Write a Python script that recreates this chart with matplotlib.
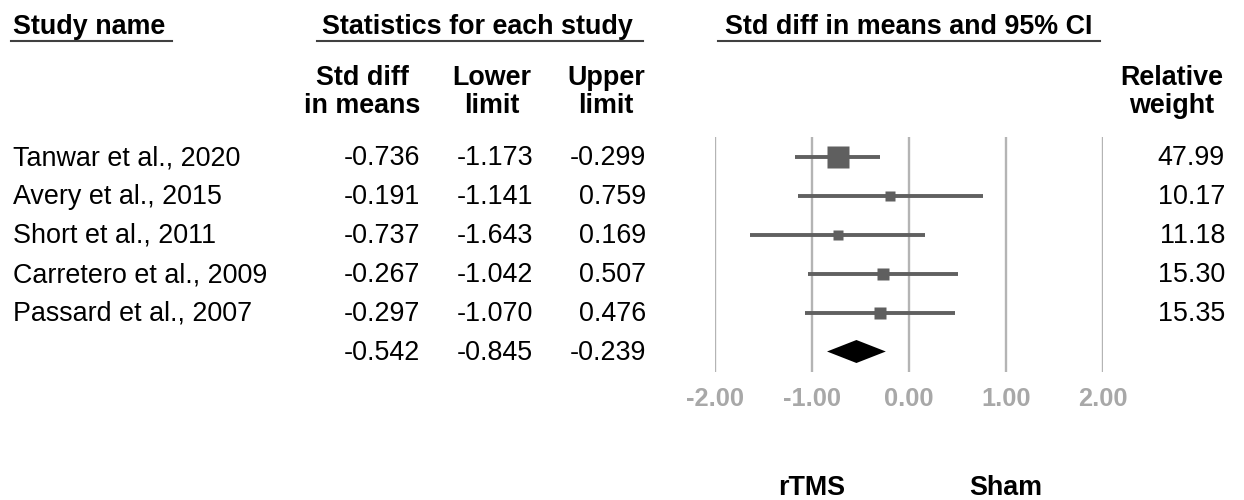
import matplotlib
matplotlib.use("Agg")
import matplotlib.pyplot as plt
from matplotlib.lines import Line2D
import numpy as np

plt.rcParams['font.family'] = ['Liberation Sans', 'DejaVu Sans']
plt.rcParams['axes.unicode_minus'] = False

# ---- data ----
studies = ["Tanwar et al., 2020", "Avery et al., 2015", "Short et al., 2011",
           "Carretero et al., 2009", "Passard et al., 2007"]
smd = [-0.736, -0.191, -0.737, -0.267, -0.297]
lower = [-1.173, -1.141, -1.643, -1.042, -1.070]
upper = [-0.299, 0.759, 0.169, 0.507, 0.476]
weights = [47.99, 10.17, 11.18, 15.30, 15.35]
summary = [-0.542, -0.845, -0.239]   # estimate, lower, upper
xticks = [-2.0, -1.0, 0.0, 1.0, 2.0]
left_label = "rTMS"
right_label = "Sham"

W, H = 1244, 500
fig = plt.figure(figsize=(W / 100, H / 100), dpi=100)

FS = 19.4      # ~27 px
TICK_FS = 18.3

def P(x, y):
    return (x / W, 1 - y / H)

def txt(x, y, s, ha='left', weight='normal', color='black', size=FS):
    fig.text(*P(x, y), s, ha=ha, va='baseline', fontsize=size,
             fontweight=weight, color=color)

def uline(x0, x1, y):
    fig.add_artist(Line2D([x0 / W, x1 / W], [1 - y / H, 1 - y / H],
                          transform=fig.transFigure, color='#404040', lw=1.5))

# ---- headers ----
txt(13, 34, "Study name", weight='bold')
uline(11, 172, 41)
txt(633, 34, "Statistics for each study", ha='right', weight='bold')
uline(317, 643, 41)
txt(909, 34, "Std diff in means and 95% CI", ha='center', weight='bold')
uline(718, 1100, 41)

txt(362, 85, "Std diff", ha='center', weight='bold')
txt(362, 113, "in means", ha='center', weight='bold')
txt(492, 85, "Lower", ha='center', weight='bold')
txt(492, 113, "limit", ha='center', weight='bold')
txt(606, 85, "Upper", ha='center', weight='bold')
txt(606, 113, "limit", ha='center', weight='bold')
txt(1172, 85, "Relative", ha='center', weight='bold')
txt(1172, 113, "weight", ha='center', weight='bold')

# ---- table rows ----
row0, dy = 165, 39
for i, name in enumerate(studies):
    yb = row0 + dy * i
    txt(13, yb, name)
    txt(420, yb, f"{smd[i]:.3f}", ha='right')
    txt(533, yb, f"{lower[i]:.3f}", ha='right')
    txt(646, yb, f"{upper[i]:.3f}", ha='right')
    txt(1225, yb, f"{weights[i]:.2f}", ha='right')
yb = row0 + dy * len(studies)
txt(420, yb, f"{summary[0]:.3f}", ha='right')
txt(533, yb, f"{summary[1]:.3f}", ha='right')
txt(646, yb, f"{summary[2]:.3f}", ha='right')

# ---- forest axes ----
ax_top, ax_bot = 137, 372
ax = fig.add_axes([715 / W, 1 - ax_bot / H, 388 / W, (ax_bot - ax_top) / H])
row_px0 = 156.5
ax.set_xlim(xticks[0], xticks[-1])
ax.set_ylim((ax_bot - row_px0) / dy, (ax_top - row_px0) / dy)
for s in ax.spines.values():
    s.set_visible(False)
ax.set_yticks([])
ax.set_xticks(xticks)
ax.set_xticklabels([f"{t:.2f}" for t in xticks], fontweight='bold')
ax.tick_params(axis='x', length=0, pad=11, labelsize=TICK_FS, labelcolor='#a8a8a8')
ax.grid(axis='x', color='#b4b4b4', lw=1.7)
ax.set_axisbelow(True)

ys = np.arange(len(studies))
ax.hlines(ys, lower, upper, color='#606060', lw=2.8, zorder=3)
wmax = max(weights)
for i in range(len(studies)):
    side_px = 21.5 * np.sqrt(weights[i] / wmax)
    ax.plot(smd[i], ys[i], marker='s', ms=side_px * 0.72, color='#5f5f5f',
            mec='none', zorder=4)
yd = len(studies)
h = 11.5 / dy
ax.fill([summary[1], summary[0], summary[2], summary[0]],
        [yd, yd - h, yd, yd + h], color='black', zorder=4, lw=0)

# ---- favours labels ----
txt(812, 495, left_label, ha='center', weight='bold')
txt(1006, 495, right_label, ha='center', weight='bold')

fig.savefig("out.png", dpi=100)
